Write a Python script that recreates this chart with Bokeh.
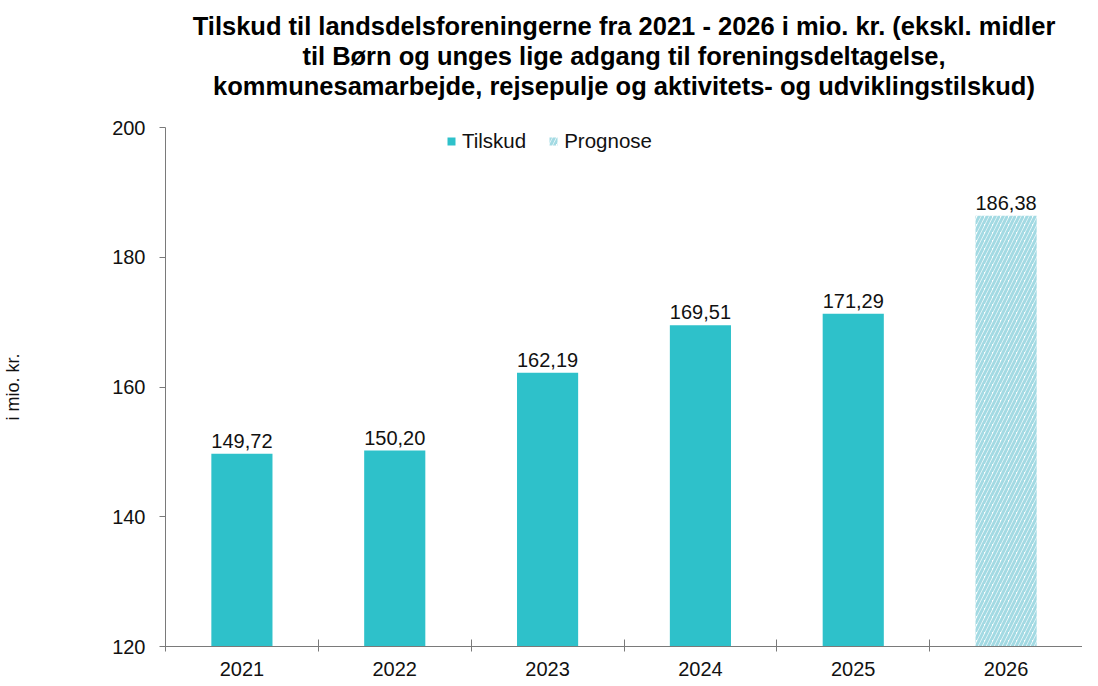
from bokeh.plotting import figure
from bokeh.models import ColumnDataSource, Range1d, FixedTicker, Legend, LegendItem, Title
from bokeh.embed import file_html
from bokeh.resources import INLINE
from bokeh.core.properties import value

years = ["2021", "2022", "2023", "2024", "2025", "2026"]
tilskud_years = ["2021", "2022", "2023", "2024", "2025"]
tilskud = [149.72, 150.20, 162.19, 169.51, 171.29]
prognose_years = ["2026"]
prognose = [186.38]
y_ticks = [120, 140, 160, 180, 200]

title_lines = [
    "Tilskud til landsdelsforeningerne fra 2021 - 2026 i mio. kr. (ekskl. midler",
    "til Børn og unges lige adgang til foreningsdeltagelse,",
    "kommunesamarbejde, rejsepulje og aktivitets- og udviklingstilskud)",
]

FONT = "Liberation Sans"
TEAL = "#2EC1CA"
HATCH = "#A3DAE3"
TXT = "#111111"

pos = {y: i + 0.5 for i, y in enumerate(years)}

def fmt(v):
    return f"{v:.2f}".replace(".", ",")

src_t = ColumnDataSource(dict(x=[pos[y] for y in tilskud_years], top=tilskud,
                              lab=[fmt(v) for v in tilskud]))
src_p = ColumnDataSource(dict(x=[pos[y] for y in prognose_years], top=prognose,
                              lab=[fmt(v) for v in prognose]))

p = figure(width=1082, height=678, output_backend="svg", toolbar_location=None,
           title=None,
           x_range=Range1d(0, len(years)), y_range=Range1d(y_ticks[0], y_ticks[-1]),
           min_border_left=161, min_border_right=0, min_border_top=127, min_border_bottom=0)

# spacer between the title block and the plot
p.add_layout(Title(text=" ", text_font_size="10px", standoff=15), "above")
# title lines: nearest to the plot first
for line in reversed(title_lines):
    t = Title(text=line, align="center", text_font=FONT, text_font_size="25.5px",
              text_font_style="bold", text_color="#000000", standoff=0)
    p.add_layout(t, "above")

base = y_ticks[0]
r1 = p.vbar(x="x", top="top", bottom=base, width=0.4, source=src_t,
            fill_color=TEAL, line_color=None)
r2 = p.vbar(x="x", top="top", bottom=base, width=0.4, source=src_p,
            fill_color="white", line_color=None, hatch_pattern="/",
            hatch_color=HATCH, hatch_weight=3, hatch_scale=8)

for s in (src_t, src_p):
    p.text(x="x", y="top", text="lab", source=s, text_align="center",
           text_baseline="bottom", y_offset=-6, text_font=value(FONT),
           text_font_size="20px", text_color=TXT)

p.xgrid.visible = False
p.ygrid.visible = False
p.outline_line_color = None

AX = "#7a7a7a"
xa = p.xaxis[0]
xa.ticker = FixedTicker(ticks=[pos[y] for y in years],
                        minor_ticks=list(range(len(years) + 1)))
xa.major_label_overrides = {pos[y]: y for y in years}
xa.major_tick_in = 0
xa.major_tick_out = 0
xa.minor_tick_in = 7
xa.minor_tick_out = 5
xa.minor_tick_line_color = AX
xa.axis_line_color = AX
xa.major_label_text_font = FONT
xa.major_label_text_font_size = "20px"
xa.major_label_text_color = TXT
xa.major_label_standoff = 10

ya = p.yaxis[0]
ya.ticker = FixedTicker(ticks=y_ticks)
ya.major_tick_in = 0
ya.major_tick_out = 6
ya.minor_tick_line_color = None
ya.axis_line_color = AX
ya.major_tick_line_color = AX
ya.major_label_text_font = FONT
ya.major_label_text_font_size = "20px"
ya.major_label_text_color = TXT
ya.major_label_standoff = 14
ya.axis_label = "i mio. kr."
ya.axis_label_text_font = FONT
ya.axis_label_text_font_size = "18px"
ya.axis_label_text_font_style = "normal"
ya.axis_label_text_color = TXT
ya.axis_label_standoff = 86

legend = Legend(items=[LegendItem(label="Tilskud", renderers=[r1]),
                       LegendItem(label="Prognose", renderers=[r2])],
                orientation="horizontal", location=(281, 493))
legend.label_text_font = FONT
legend.label_text_font_size = "20.5px"
legend.label_text_color = TXT
legend.glyph_width = 10
legend.glyph_height = 10
legend.spacing = 22
legend.label_standoff = 6
legend.padding = 0
legend.margin = 0
legend.border_line_color = None
legend.background_fill_alpha = 0
p.add_layout(legend, "center")

open("out.html", "w").write(file_html(p, INLINE))
